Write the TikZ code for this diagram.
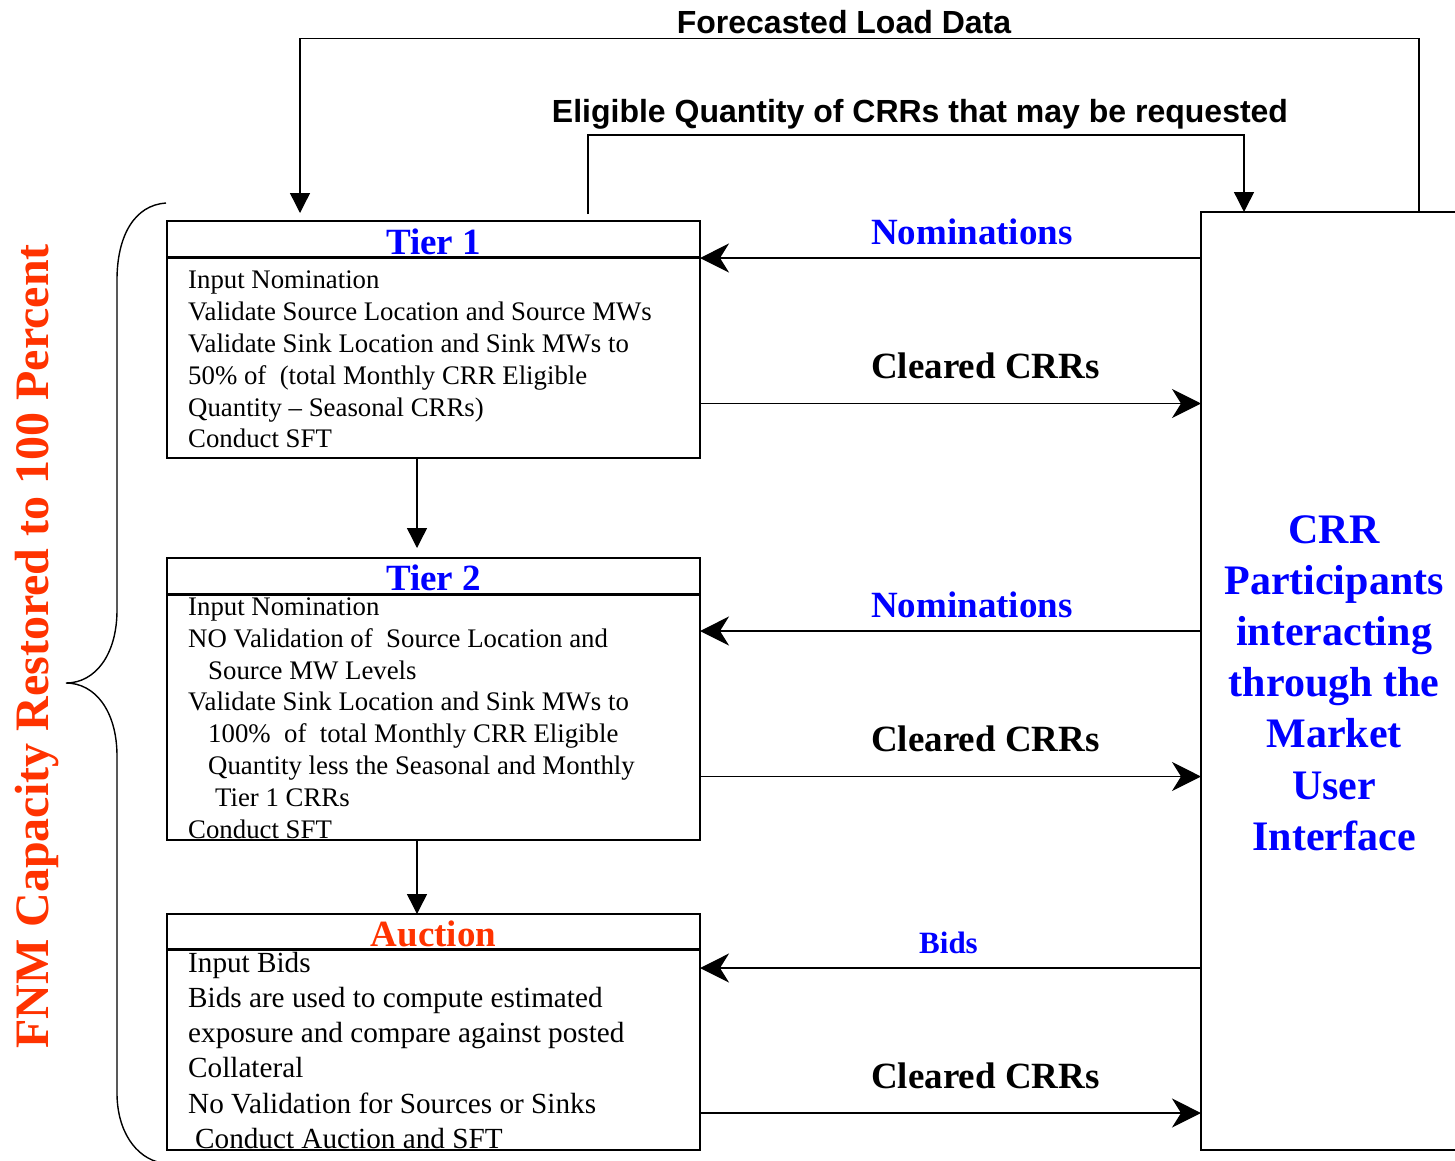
\documentclass[tikz,border=0pt]{standalone}
\usepackage{fontspec}
\setmainfont{Liberation Serif}
\newfontfamily\sansfont{Liberation Sans}
\usetikzlibrary{arrows.meta}
\definecolor{fnmred}{RGB}{255,51,0}
\definecolor{pblue}{RGB}{0,0,255}
\begin{document}
\begin{tikzpicture}[x=1pt,y=-1pt,
  stagebox/.style={draw,line width=1.8pt,inner sep=0,outer sep=0,anchor=north west,minimum width=533pt},
  bodyA/.style={anchor=base west,inner sep=0,font=\fontsize{26.8}{32}\selectfont},
  bodyB/.style={anchor=base west,inner sep=0,font=\fontsize{29.2}{35}\selectfont},
  stitle/.style={anchor=base,inner sep=0,font=\fontsize{37}{44}\selectfont\bfseries},
  flowlbl/.style={anchor=base west,inner sep=0,font=\fontsize{37}{44}\selectfont\bfseries},
  toplbl/.style={anchor=base,inner sep=0,font=\sansfont\fontsize{32}{38}\selectfont\bfseries},
  crrtxt/.style={anchor=base,inner sep=0,text=pblue,font=\fontsize{42}{51}\selectfont\bfseries},
  flow/.style={line width=1.4pt},
  harr/.style={flow,-{Stealth[length=29pt,width=29pt,inset=9pt]}},
  varr/.style={flow,-{Triangle[length=20pt,width=20pt]}},
  hdr/.style={line width=2.4pt},
]
\useasboundingbox (0,0) rectangle (1455,1160);
\clip (0,0) rectangle (1455,1160);

% boxes
\node[stagebox,minimum height=237pt] (t1) at (167,221) {};
\node[stagebox,minimum height=282pt] (t2) at (167,558) {};
\node[stagebox,minimum height=236pt] (au) at (167,914) {};
\node[draw,line width=2.4pt,inner sep=0,outer sep=0,anchor=north west,minimum width=280pt,minimum height=938pt] (crr) at (1201,212) {};

% header lines
\coordinate (h1) at (0,257.5);
\coordinate (h2) at (0,594.5);
\coordinate (h3) at (0,949.5);
\draw[hdr] (t1.west |- h1) -- (t1.east |- h1);
\draw[hdr] (t2.west |- h2) -- (t2.east |- h2);
\draw[hdr] (au.west |- h3) -- (au.east |- h3);

% titles
\node[stitle,text=pblue] (t1t) at (433.5,254) {Tier 1};
\node[stitle,text=pblue] (t2t) at (433.5,590) {Tier 2};
\node[stitle,text=fnmred] (aut) at (433.5,946) {Auction};

% Tier 1 body
\node[bodyA] (t1a) at (188,288) {Input Nomination};
\node[bodyA] (t1b) at (188,320) {Validate Source Location and Source MWs};
\node[bodyA] (t1c) at (188,352) {Validate Sink Location and Sink MWs to};
\node[bodyA] (t1d) at (188,384) {50\% of~ (total Monthly CRR Eligible};
\node[bodyA] (t1e) at (188,416) {Quantity – Seasonal CRRs)};
\node[bodyA] (t1f) at (188,447.5) {Conduct SFT};

% Tier 2 body
\node[bodyA] (t2a) at (188,615) {Input Nomination};
\node[bodyA] (t2b) at (188,647) {NO Validation of~ Source Location and};
\node[bodyA] (t2c) at (208,679) {Source MW Levels};
\node[bodyA] (t2d) at (188,710.5) {Validate Sink Location and Sink MWs to};
\node[bodyA] (t2e) at (208,742.5) {100\%~ of~ total Monthly CRR Eligible};
\node[bodyA] (t2f) at (208,774.5) {Quantity less the Seasonal and Monthly};
\node[bodyA] (t2g) at (215,806) {Tier 1 CRRs};
\node[bodyA] (t2h) at (188,838) {Conduct SFT};

% Auction body
\node[bodyB] (aua) at (188,972) {Input Bids};
\node[bodyB] (aub) at (188,1007) {Bids are used to compute estimated};
\node[bodyB] (auc) at (188,1042.5) {exposure and compare against posted};
\node[bodyB] (aud) at (188,1077.5) {Collateral};
\node[bodyB] (aue) at (188,1113) {No Validation for Sources or Sinks};
\node[bodyB] (auf) at (195,1148) {Conduct Auction and SFT};

% right box text
\foreach \w [count=\i from 0] in {CRR,Participants,interacting,through the,Market,User,Interface}
  \node[crrtxt] (crr\i) at (1334,{543+51.2*\i}) {\w};

% horizontal flows
\coordinate (n1) at (950,258);
\coordinate (c1) at (950,403.5);
\coordinate (n2) at (950,631);
\coordinate (c2) at (950,776.5);
\coordinate (b3) at (950,968);
\coordinate (c3) at (950,1113);
\draw[harr] (crr.west |- n1) -- (t1.east |- n1);
\draw[harr] (t1.east |- c1) -- (crr.west |- c1);
\draw[harr] (crr.west |- n2) -- (t2.east |- n2);
\draw[harr] (t2.east |- c2) -- (crr.west |- c2);
\draw[harr] (crr.west |- b3) -- (au.east |- b3);
\draw[harr] (au.east |- c3) -- (crr.west |- c3);

\node[flowlbl,text=pblue] (ln1) at (871,244) {Nominations};
\node[flowlbl] (lc1) at (871,378) {Cleared CRRs};
\node[flowlbl,text=pblue] (ln2) at (871,617) {Nominations};
\node[flowlbl] (lc2) at (871,751) {Cleared CRRs};
\node[anchor=base west,inner sep=0,text=pblue,font=\fontsize{31}{37}\selectfont\bfseries] (lb3) at (919,953) {Bids};
\node[flowlbl] (lc3) at (871,1088) {Cleared CRRs};

% vertical flows
\coordinate (dx) at (417,0);
\coordinate (g2) at (417,548);
\draw[varr] (t1.south -| dx) -- (g2);
\draw[varr] (t2.south -| dx) -- (au.north -| dx);

% forecasted load data loop
\coordinate (fL) at (300,38.5);
\coordinate (fR) at (1419,38.5);
\coordinate (fT) at (300,213);
\draw[varr] (crr.north -| fR) -- (fR) -- (fL) -- (fT);
\node[toplbl] (fld) at (844,33) {Forecasted Load Data};

% eligible quantity loop
\coordinate (eB) at (588,214);
\coordinate (eL) at (588,135);
\coordinate (eR) at (1244,135);
\draw[varr] (eB) -- (eL) -- (eR) -- (crr.north -| eR);
\node[toplbl] (eq) at (920,122) {Eligible Quantity of CRRs that may be requested};

% brace
\draw[line width=1.4pt] (166,203) .. controls (135,205) and (117,235) .. (117,280)
  -- (117,610) .. controls (117,655) and (95,683) .. (66,683)
  .. controls (95,683) and (117,711) .. (117,756)
  -- (117,1093) .. controls (117,1130) and (135,1158) .. (162,1163);

% side label
\node[rotate=90,anchor=base,inner sep=0,text=fnmred,font=\fontsize{48}{56}\selectfont\bfseries] (fnm) at (48,646.5) {FNM Capacity Restored to 100 Percent};
\end{tikzpicture}
\end{document}
